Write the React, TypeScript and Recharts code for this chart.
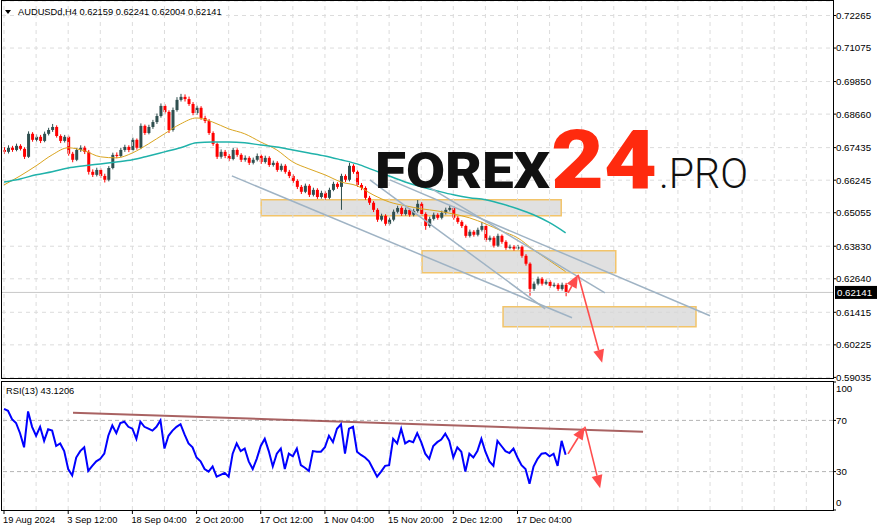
import React from 'react';
import {
  ComposedChart,
  Bar,
  Line,
  XAxis,
  YAxis,
  CartesianGrid,
  ReferenceLine,
  ReferenceArea,
} from 'recharts';

// AUDUSD H4 candles, one candle per 4 bars
const firstOpen = 0.6735;
const closes = [
  0.6728, 0.6743, 0.6735, 0.675, 0.6739, 0.671, 0.6794, 0.6772, 0.6783, 0.6768,
  0.6794, 0.6808, 0.6819, 0.6786, 0.6768, 0.6783, 0.6721, 0.6699, 0.6735, 0.6743,
  0.6728, 0.6655, 0.6644, 0.6662, 0.664, 0.6626, 0.6669, 0.6717, 0.6713, 0.6735,
  0.6746, 0.6735, 0.6772, 0.6743, 0.6823, 0.6797, 0.6819, 0.6837, 0.6859, 0.6896,
  0.6874, 0.6808, 0.6881, 0.6918, 0.6929, 0.6921, 0.6903, 0.687, 0.6889, 0.6852,
  0.6841, 0.6797, 0.6757, 0.671, 0.6728, 0.6713, 0.6702, 0.6735, 0.6717, 0.6699,
  0.6706, 0.6688, 0.6699, 0.6713, 0.6691, 0.6706, 0.668, 0.6688, 0.6662, 0.6677,
  0.6655, 0.664, 0.6622, 0.66, 0.6582, 0.6604, 0.6571, 0.6589, 0.6563, 0.6578,
  0.656, 0.6589, 0.6611, 0.66, 0.664, 0.6626, 0.6677, 0.6655, 0.6607, 0.6596,
  0.656, 0.6542, 0.6516, 0.648, 0.6494, 0.6465, 0.648, 0.6509, 0.6523, 0.6501,
  0.6516, 0.6498, 0.6512, 0.6538, 0.6501, 0.6457, 0.6483, 0.6498, 0.6487, 0.6505,
  0.6516, 0.6523, 0.6487, 0.6472, 0.6457, 0.6421, 0.6436, 0.6425, 0.6443, 0.6457,
  0.6406, 0.6414, 0.6385, 0.6421, 0.6399, 0.6377, 0.6381, 0.6374, 0.6381, 0.6348,
  0.6319, 0.6227, 0.6246, 0.6264, 0.6246, 0.6253, 0.6238, 0.6242, 0.6227, 0.6242,
  0.62141,
];
const highs = [
  0.6745, 0.6752, 0.675, 0.6758, 0.6756, 0.6745, 0.6803, 0.68, 0.6792, 0.679,
  0.6802, 0.6816, 0.683, 0.6825, 0.6792, 0.679, 0.6788, 0.6728, 0.6742, 0.6752,
  0.675, 0.6735, 0.6664, 0.667, 0.6668, 0.6648, 0.6676, 0.6725, 0.6726, 0.6743,
  0.6754, 0.6752, 0.678, 0.6777, 0.6832, 0.6828, 0.6827, 0.6845, 0.6868, 0.6905,
  0.6902, 0.688, 0.689, 0.6928, 0.694, 0.6938, 0.693, 0.691, 0.6897, 0.6895,
  0.686, 0.6848, 0.6803, 0.6763, 0.6737, 0.6735, 0.672, 0.6743, 0.6741, 0.6723,
  0.6715, 0.6712, 0.6707, 0.6722, 0.6718, 0.6714, 0.6712, 0.6696, 0.6694, 0.6685,
  0.6683, 0.6662, 0.6646, 0.6628, 0.6607, 0.6612, 0.661, 0.6597, 0.6595, 0.6586,
  0.6584, 0.6597, 0.6619, 0.6617, 0.6648, 0.6646, 0.6688, 0.6683, 0.666, 0.6614,
  0.6602, 0.6567, 0.6548, 0.6522, 0.6502, 0.65, 0.6488, 0.6517, 0.6531, 0.6529,
  0.6524, 0.6522, 0.652, 0.6552, 0.6544, 0.6507, 0.6491, 0.6506, 0.6504, 0.6513,
  0.6524, 0.6534, 0.6529, 0.6493, 0.6478, 0.6462, 0.6444, 0.6442, 0.6451, 0.6472,
  0.6463, 0.6422, 0.642, 0.6429, 0.6426, 0.6405, 0.6389, 0.6387, 0.6388, 0.6386,
  0.6354, 0.6324, 0.6254, 0.6272, 0.627, 0.6261, 0.6259, 0.625, 0.6248, 0.625,
  0.6249,
];
const lows = [
  0.672, 0.6722, 0.6728, 0.673, 0.6733, 0.6702, 0.6706, 0.6765, 0.6766, 0.676,
  0.6763, 0.6788, 0.6801, 0.678, 0.676, 0.6762, 0.6714, 0.669, 0.6694, 0.6728,
  0.672, 0.6645, 0.6636, 0.6638, 0.6632, 0.6616, 0.662, 0.6664, 0.6705, 0.6708,
  0.6728, 0.6727, 0.673, 0.6736, 0.6738, 0.679, 0.6792, 0.6812, 0.683, 0.6853,
  0.6868, 0.6797, 0.6802, 0.6875, 0.6912, 0.6912, 0.6896, 0.6862, 0.6864, 0.6845,
  0.6833, 0.679, 0.675, 0.6702, 0.6703, 0.6705, 0.6694, 0.6697, 0.671, 0.6691,
  0.6692, 0.668, 0.6682, 0.6693, 0.6684, 0.6685, 0.6673, 0.6674, 0.6655, 0.6656,
  0.6648, 0.6632, 0.6614, 0.6592, 0.6574, 0.6577, 0.6563, 0.6565, 0.6556, 0.6557,
  0.6552, 0.6555, 0.6584, 0.6593, 0.6516, 0.6618, 0.662, 0.6648, 0.66, 0.6588,
  0.6553, 0.6534, 0.6508, 0.6472, 0.6474, 0.6458, 0.6459, 0.6474, 0.6503, 0.6494,
  0.6495, 0.6491, 0.6492, 0.6506, 0.6494, 0.6443, 0.6451, 0.6477, 0.648, 0.6481,
  0.6499, 0.651, 0.648, 0.6465, 0.645, 0.6414, 0.6415, 0.6418, 0.6419, 0.6437,
  0.6399, 0.64, 0.6378, 0.638, 0.6392, 0.637, 0.6372, 0.6367, 0.6369, 0.6341,
  0.6312, 0.6202, 0.622, 0.624, 0.6239, 0.6241, 0.6231, 0.6233, 0.622, 0.6221,
  0.62,
];

// RSI(13), same bar steps as the candles
const rsiValues = [
  79, 77.5, 71, 68, 60, 49, 77, 65, 58, 65,
  54, 63, 62, 50, 52, 46, 32, 27, 41, 46,
  49, 30.5, 34.5, 38, 40, 44, 58, 66, 60, 68,
  69, 65, 63.5, 55.6, 69, 65, 63.5, 62, 65, 70,
  48, 58, 62, 65, 67, 59, 52, 49, 41, 38,
  32, 30, 34, 26, 27.5, 29, 26, 44, 52, 46,
  48, 38, 32, 40, 50, 55.6, 46, 34, 44, 48,
  32, 44, 42, 48, 35, 33, 30.5, 46, 45.5, 45.5,
  49, 58, 53, 63.5, 67, 44, 63.5, 65, 45.5, 43,
  41, 38, 32, 26, 30, 34.5, 35, 55.6, 52, 63.5,
  52, 54, 53, 60, 53, 44, 40, 50, 53, 55,
  59.6, 54, 41, 49, 45.5, 30, 44, 41, 46, 55.6,
  45.5, 38, 34.5, 54, 50, 46, 44.5, 48, 41, 35,
  32, 20.5, 34, 40, 44, 44.5, 42, 44, 34.5, 54,
  43.12,
];

// moving averages, one value every 4 candles
const maStep = 4;
const maFast = [
  0.6607, 0.664, 0.6677, 0.6717, 0.6743, 0.6732, 0.671, 0.6706, 0.6724, 0.6757,
  0.6794, 0.683, 0.6852, 0.6837, 0.6812, 0.6794, 0.6764, 0.6735, 0.6691, 0.6666,
  0.6644, 0.6618, 0.6604, 0.6571, 0.6545, 0.6531, 0.652, 0.6512, 0.6501, 0.6487,
  0.6465, 0.6439, 0.6414, 0.637, 0.633, 0.629,
];
const maSlow = [
  0.6618, 0.6629, 0.6644, 0.6655, 0.6669, 0.6677, 0.6684, 0.6691, 0.6699, 0.6713,
  0.6728, 0.6743, 0.6761, 0.6764, 0.6764, 0.6761, 0.6753, 0.6746, 0.6735, 0.6724,
  0.6713, 0.6699, 0.6684, 0.6662, 0.664, 0.6618, 0.66, 0.6585, 0.6571, 0.656,
  0.6553, 0.6538, 0.652, 0.6498, 0.6469, 0.6432,
];

const lastPrice = 0.62141;
const priceTicks = [
  0.72265, 0.71075, 0.6985, 0.6866, 0.67435, 0.66245, 0.65055, 0.6383, 0.6264, 0.61415,
  0.60225, 0.59035,
];
const rsiTicks = [0, 30, 70, 100];
const rsiLevels = [70, 30];
const gridBars = [
  0, 8, 16, 24, 32, 40, 48, 56, 64, 72, 80, 88, 96, 104, 112, 120, 128, 136, 144, 152,
  160, 168, 176, 184, 192, 200,
];
const dateTicks = [0, 16, 32, 48, 64, 80, 96, 112, 128];
const dateLabels = [
  '19 Aug 2024',
  '3 Sep 12:00',
  '18 Sep 04:00',
  '2 Oct 20:00',
  '17 Oct 12:00',
  '1 Nov 04:00',
  '15 Nov 20:00',
  '2 Dec 12:00',
  '17 Dec 04:00',
];

// analyst drawings
const zones = [
  { x1: 64.1, x2: 138.9, y1: 0.64941, y2: 0.65525 },
  { x1: 104.2, x2: 152.5, y1: 0.62858, y2: 0.63662 },
  { x1: 124.4, x2: 172.5, y1: 0.60886, y2: 0.61616 },
];
const channelLines = [
  [{ x: 56.8, y: 0.66402 }, { x: 141.6, y: 0.61214 }],
  [{ x: 91.2, y: 0.66256 }, { x: 134.9, y: 0.61543 }],
  [{ x: 105.4, y: 0.66037 }, { x: 149.8, y: 0.62128 }],
  [{ x: 96.2, y: 0.66256 }, { x: 176.0, y: 0.61288 }],
];
const priceArrows = [
  [{ x: 140.6, y: 0.62128 }, { x: 143.1, y: 0.62785 }],
  [{ x: 143.1, y: 0.62785 }, { x: 149.1, y: 0.59571 }],
];
const rsiTrend = [{ x: 17.2, y: 76 }, { x: 159.3, y: 61.1 }];
const rsiArrows = [
  [{ x: 140.6, y: 43.9 }, { x: 144.8, y: 65.1 }],
  [{ x: 144.8, y: 65.1 }, { x: 148.6, y: 17 }],
];

const W = 879;
const X_DOMAIN: [number, number] = [-0.5, 206.65];
const FONT = '"Liberation Sans", Arial, sans-serif';
const BULL = '#2F4F4F';
const BEAR = '#FF0000';
const ARROW = '#FF4D4D';
const GRID = '#dcdcdc';

const candles = closes.map((c, i) => ({
  i,
  open: i === 0 ? firstOpen : closes[i - 1],
  close: c,
  high: highs[i],
  low: lows[i],
  range: [lows[i], highs[i]],
}));
const fastData = maFast.map((v, k) => ({ i: k * maStep, v }));
const slowData = maSlow.map((v, k) => ({ i: k * maStep, v }));
const rsiData = rsiValues.map((rsi, i) => ({ i, rsi }));

const renderCandle = (props: any) => {
  const { x, y, width, height, payload } = props;
  if (!payload || !height) return <g />;
  const { open, close, high, low } = payload;
  const color = close >= open ? BULL : BEAR;
  const top = Math.min(y, y + height);
  const h = Math.abs(height);
  const k = h / (high - low);
  const bTop = top + (high - Math.max(open, close)) * k;
  const bBot = top + (high - Math.min(open, close)) * k;
  const cx = x + width / 2;
  return (
    <g>
      <line x1={cx} x2={cx} y1={top} y2={top + h} stroke={color} strokeWidth={1} />
      <rect x={x} y={bTop} width={width} height={Math.max(1, bBot - bTop)} fill={color} />
    </g>
  );
};

const ArrowShape = (p: any) => {
  const { x1, y1, x2, y2 } = p;
  const a = Math.atan2(y2 - y1, x2 - x1);
  const len = 13;
  const hw = 5.5;
  const bx = x2 - len * Math.cos(a);
  const by = y2 - len * Math.sin(a);
  const px = -Math.sin(a) * hw;
  const py = Math.cos(a) * hw;
  return (
    <g>
      <line x1={x1} y1={y1} x2={bx} y2={by} stroke={ARROW} strokeWidth={1.6} />
      <polygon points={`${x2},${y2} ${bx + px},${by + py} ${bx - px},${by - py}`} fill={ARROW} />
    </g>
  );
};

const renderPriceTag = (props: any) => {
  const { x, y, width } = props.viewBox;
  return (
    <g>
      <rect x={x + width + 2} y={y - 6.5} width={42} height={13} fill="#000" />
      <text x={x + width + 4} y={y + 3.5} fill="#fff" fontSize={9.7} fontFamily={FONT}>
        {lastPrice.toFixed(5)}
      </text>
    </g>
  );
};

const renderDateTick = (props: any) => {
  const { x, y, payload } = props;
  const idx = dateTicks.indexOf(payload.value);
  return (
    <text x={x - 1} y={y} dy="0.71em" textAnchor="start" fontSize={9.3} fontFamily={FONT} fill="#000">
      {dateLabels[idx]}
    </text>
  );
};

const renderRsiTick = (props: any) => {
  const { x, y, payload } = props;
  const shift = payload.value === 100 ? 7 : payload.value === 0 ? -7 : 0;
  return (
    <text x={x} y={y + shift} dy="0.355em" textAnchor="start" fontSize={9.7} fontFamily={FONT} fill="#000">
      {payload.value}
    </text>
  );
};

export default function App() {
  return (
    <div
      style={{
        position: 'absolute',
        left: 0,
        top: 0,
        width: W,
        height: 531,
        background: '#fff',
        overflow: 'hidden',
      }}
    >
      <div style={{ position: 'absolute', left: 0, top: 0 }}>
        <ComposedChart width={W} height={390} data={candles} margin={{ top: 1, right: 0, bottom: 12, left: 2 }}>
          <XAxis type="number" dataKey="i" domain={X_DOMAIN} allowDataOverflow hide />
          <YAxis
            orientation="right"
            width={46}
            domain={[0.59013, 0.72795]}
            allowDataOverflow
            ticks={priceTicks}
            interval={0}
            axisLine={false}
            tickSize={3}
            tickMargin={0}
            tickLine={{ stroke: '#000' }}
            tick={{ fontSize: 9.7, fill: '#000', fontFamily: FONT }}
            tickFormatter={(v: number) => v.toFixed(5)}
          />
          <CartesianGrid vertical={false} stroke={GRID} strokeDasharray="4 4" />
          {gridBars.map((g) => (
            <ReferenceLine key={g} x={g} stroke={GRID} strokeDasharray="4 4" />
          ))}
          <ReferenceLine y={lastPrice} stroke="#c8c8c8" label={renderPriceTag} />
          <Bar dataKey="range" barSize={3} shape={renderCandle} isAnimationActive={false} />
          <Line data={fastData} dataKey="v" type="monotone" stroke="#DAA520" strokeWidth={1} dot={false} isAnimationActive={false} />
          <Line data={slowData} dataKey="v" type="monotone" stroke="#20B2AA" strokeWidth={1.5} dot={false} isAnimationActive={false} />
          {zones.map((z, k) => (
            <ReferenceArea
              key={k}
              x1={z.x1}
              x2={z.x2}
              y1={z.y1}
              y2={z.y2}
              fill="#d6d6d6"
              fillOpacity={0.75}
              stroke="#F2C46A"
              strokeWidth={1.5}
            />
          ))}
          {channelLines.map((s, k) => (
            <ReferenceLine key={k} segment={s} stroke="#9fb3c4" strokeWidth={1.5} />
          ))}
          {priceArrows.map((s, k) => (
            <ReferenceLine key={k} segment={s} shape={ArrowShape} />
          ))}
        </ComposedChart>
      </div>

      <div style={{ position: 'absolute', left: 0, top: 381 }}>
        <ComposedChart width={W} height={150} data={rsiData} margin={{ top: 1, right: 0, bottom: 0, left: 2 }}>
          <XAxis
            type="number"
            dataKey="i"
            domain={X_DOMAIN}
            allowDataOverflow
            ticks={dateTicks}
            interval={0}
            height={21}
            axisLine={false}
            tickSize={4}
            tickMargin={2}
            tickLine={{ stroke: '#000' }}
            tick={renderDateTick}
          />
          <YAxis
            orientation="right"
            width={46}
            domain={[0, 100]}
            allowDataOverflow
            ticks={rsiTicks}
            interval={0}
            axisLine={false}
            tickSize={3}
            tickMargin={0}
            tickLine={{ stroke: '#000' }}
            tick={renderRsiTick}
          />
          {gridBars.map((g) => (
            <ReferenceLine key={g} x={g} stroke={GRID} strokeDasharray="4 4" />
          ))}
          {rsiLevels.map((lv) => (
            <ReferenceLine key={lv} y={lv} stroke="#b4b4b4" strokeDasharray="4 3" />
          ))}
          <ReferenceLine segment={rsiTrend} stroke="#9a4646" strokeWidth={2} strokeOpacity={0.85} />
          <Line dataKey="rsi" type="linear" stroke="#0000FF" strokeWidth={2} dot={false} isAnimationActive={false} />
          {rsiArrows.map((s, k) => (
            <ReferenceLine key={k} segment={s} shape={ArrowShape} />
          ))}
        </ComposedChart>
      </div>

      {/* pane frames */}
      <div style={{ position: 'absolute', left: 1, top: 0, width: 833, height: 379, border: '1px solid #000', boxSizing: 'border-box' }} />
      <div style={{ position: 'absolute', left: 1, top: 381, width: 833, height: 130, border: '1px solid #000', boxSizing: 'border-box' }} />

      <svg width={W} height={531} style={{ position: 'absolute', left: 0, top: 0, pointerEvents: 'none' }}>
        <polygon points="5,10 11,10 8,14" fill="#000" />
        <text x={18} y={15} fontSize={9.3} fontFamily={FONT} fill="#000">
          AUDUSDd,H4  0.62159 0.62241 0.62004 0.62141
        </text>
        <text x={6} y={394} fontSize={9.3} fontFamily={FONT} fill="#000">
          RSI(13) 43.1206
        </text>
        <text x={375} y={188} fontSize={50} fontWeight={900} fontFamily="Roboto, sans-serif" fill="#111" textLength={175} lengthAdjust="spacingAndGlyphs">
          FOREX
        </text>
        <text x={551} y={188} fontSize={82} fontWeight={900} fontFamily="Roboto, sans-serif" fill="#FF2A0E" textLength={106} lengthAdjust="spacingAndGlyphs">
          24
        </text>
        <text x={659} y={188} fontSize={43} fontWeight={300} fontFamily="Roboto, sans-serif" fill="#111" textLength={89} lengthAdjust="spacingAndGlyphs">
          .PRO
        </text>
      </svg>
    </div>
  );
}
